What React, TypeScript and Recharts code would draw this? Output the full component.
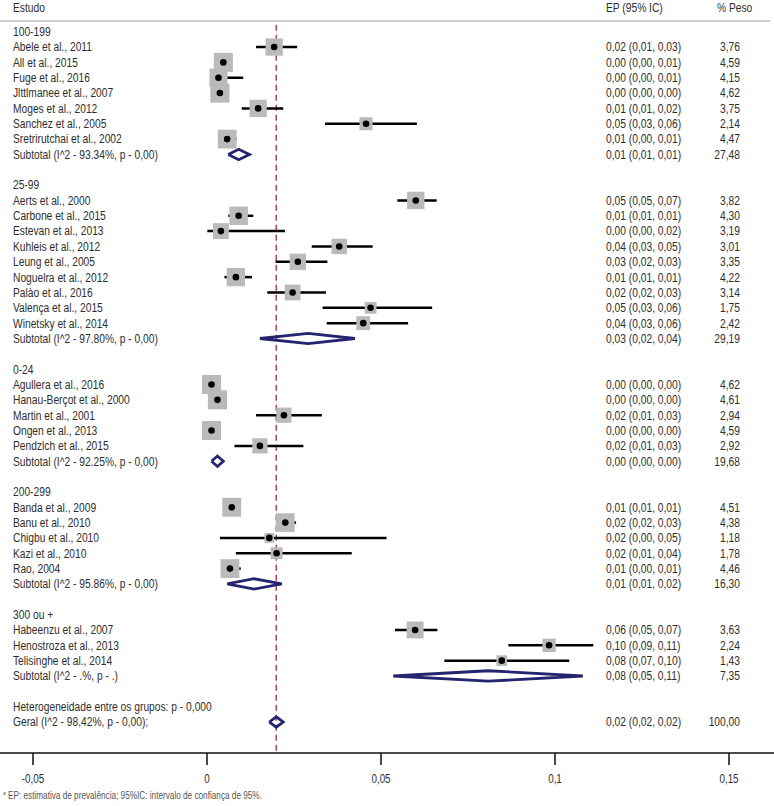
import React from 'react';
import { ComposedChart, Scatter, Line, XAxis, YAxis, ErrorBar, ReferenceLine } from 'recharts';

const groupNames = ['100-199', '25-99', '0-24', '200-299', '300 ou +'];
const groupSizes = [7, 9, 5, 5, 3];

const studyNames = [
  'Abele et al., 2011', 'All et al., 2015', 'Fuge et al., 2016', 'Jlttlmanee et al., 2007', 'Moges et al., 2012',
  'Sanchez et al., 2005', 'Sretrirutchai et al., 2002',
  'Aerts et al., 2000', 'Carbone et al., 2015', 'Estevan et al., 2013', 'Kuhleis et al., 2012', 'Leung et al., 2005',
  'Noguelra et al., 2012', 'Palào et al., 2016', 'Valença et al., 2015', 'Winetsky et al., 2014',
  'Agullera et al., 2016', 'Hanau-Berçot et al., 2000', 'Martin et al., 2001', 'Ongen et al., 2013', 'Pendzlch et al., 2015',
  'Banda et al., 2009', 'Banu et al., 2010', 'Chigbu et al., 2010', 'Kazi et al., 2010', 'Rao, 2004',
  'Habeenzu et al., 2007', 'Henostroza et al., 2013', 'Telisinghe et al., 2014',
];
const studyEst = [
  0.0193, 0.0047, 0.0033, 0.0037, 0.0147, 0.0457, 0.0058,
  0.0600, 0.0091, 0.0040, 0.0380, 0.0261, 0.0083, 0.0246, 0.0470, 0.0449,
  0.0013, 0.0030, 0.0221, 0.0013, 0.0152,
  0.0071, 0.0225, 0.0179, 0.0200, 0.0066,
  0.0598, 0.0983, 0.0847,
];
const studyLo = [
  0.0141, 0.0030, 0.0009, 0.0025, 0.0100, 0.0339, 0.0037,
  0.0547, 0.0061, 0.0001, 0.0301, 0.0197, 0.0050, 0.0173, 0.0332, 0.0344,
  0.0008, 0.0022, 0.0141, 0.0008, 0.0079,
  0.0055, 0.0198, 0.0037, 0.0083, 0.0042,
  0.0540, 0.0866, 0.0682,
];
const studyHi = [
  0.0259, 0.0065, 0.0104, 0.0050, 0.0219, 0.0603, 0.0085,
  0.0660, 0.0133, 0.0224, 0.0476, 0.0346, 0.0129, 0.0342, 0.0647, 0.0578,
  0.0018, 0.0038, 0.0330, 0.0018, 0.0277,
  0.0093, 0.0256, 0.0516, 0.0416, 0.0097,
  0.0662, 0.1110, 0.1041,
];
const studyWeight = [
  3.76, 4.59, 4.15, 4.62, 3.75, 2.14, 4.47,
  3.82, 4.30, 3.19, 3.01, 3.35, 4.22, 3.14, 1.75, 2.42,
  4.62, 4.61, 2.94, 4.59, 2.92,
  4.51, 4.38, 1.18, 1.78, 4.46,
  3.63, 2.24, 1.43,
];
const studyCi = [
  '0,02 (0,01, 0,03)', '0,00 (0,00, 0,01)', '0,00 (0,00, 0,01)', '0,00 (0,00, 0,00)', '0,01 (0,01, 0,02)',
  '0,05 (0,03, 0,06)', '0,01 (0,00, 0,01)',
  '0,05 (0,05, 0,07)', '0,01 (0,01, 0,01)', '0,00 (0,00, 0,02)', '0,04 (0,03, 0,05)', '0,03 (0,02, 0,03)',
  '0,01 (0,01, 0,01)', '0,02 (0,02, 0,03)', '0,05 (0,03, 0,06)', '0,04 (0,03, 0,06)',
  '0,00 (0,00, 0,00)', '0,00 (0,00, 0,00)', '0,02 (0,01, 0,03)', '0,00 (0,00, 0,00)', '0,02 (0,01, 0,03)',
  '0,01 (0,01, 0,01)', '0,02 (0,02, 0,03)', '0,02 (0,00, 0,05)', '0,02 (0,01, 0,04)', '0,01 (0,00, 0,01)',
  '0,06 (0,05, 0,07)', '0,10 (0,09, 0,11)', '0,08 (0,07, 0,10)',
];

const subtotalLabels = [
  'Subtotal (I^2 - 93.34%, p - 0,00)',
  'Subtotal (I^2 - 97.80%, p - 0,00)',
  'Subtotal (I^2 - 92.25%, p - 0,00)',
  'Subtotal (I^2 - 95.86%, p - 0,00)',
  'Subtotal (I^2 - .%, p - .)',
];
const subtotalEst = [0.0091, 0.0291, 0.0030, 0.0135, 0.0808];
const subtotalLo = [0.0061, 0.0152, 0.0013, 0.0058, 0.0535];
const subtotalHi = [0.0122, 0.0425, 0.0047, 0.0215, 0.1080];
const subtotalWeight = [27.48, 29.19, 19.68, 16.30, 7.35];
const subtotalCi = ['0,01 (0,01, 0,01)', '0,03 (0,02, 0,04)', '0,00 (0,00, 0,00)', '0,01 (0,01, 0,02)', '0,08 (0,05, 0,11)'];

const heterogeneityLabel = 'Heterogeneidade entre os grupos: p - 0,000';
const overallLabel = 'Geral (I^2 - 98,42%, p - 0,00);';
const overallEst = 0.0199;
const overallLo = 0.0179;
const overallHi = 0.0219;
const overallWeight = 100;
const overallCi = '0,02 (0,02, 0,02)';

const xTicks = [-0.05, 0, 0.05, 0.1, 0.15];

// no narrow font installed, so squeeze Liberation Sans horizontally
const FONT = "'Liberation Sans', Arial, sans-serif";
const SQUEEZE = 0.82;
const TEXT = '#2e2e2e';
const NAVY = '#24246f';

const fmtPeso = (w: number) => w.toFixed(2).replace('.', ',');
const diamondH = 0.34;
const makeDiamond = (lo: number, est: number, hi: number, y: number) => [
  { x: lo, y },
  { x: est, y: y - diamondH },
  { x: hi, y },
  { x: est, y: y + diamondH },
  { x: lo, y },
];

type TextRow = { x: number; y: number; label: string; ci?: string; peso?: string; kind?: string };
const textRows: TextRow[] = [{ x: 0, y: -1.6, label: 'Estudo', ci: 'EP (95% IC)', peso: '% Peso', kind: 'head' }];
const studyRows: { x: number; y: number; w: number; err: number[] }[] = [];
const diamonds: { x: number; y: number }[][] = [];

let row = 0;
let k = 0;
groupNames.forEach((g, gi) => {
  textRows.push({ x: 0, y: row, label: g });
  row++;
  for (let j = 0; j < groupSizes[gi]; j++) {
    textRows.push({ x: 0, y: row, label: studyNames[k], ci: studyCi[k], peso: fmtPeso(studyWeight[k]) });
    studyRows.push({ x: studyEst[k], y: row, w: studyWeight[k], err: [studyEst[k] - studyLo[k], studyHi[k] - studyEst[k]] });
    k++;
    row++;
  }
  textRows.push({ x: 0, y: row, label: subtotalLabels[gi], ci: subtotalCi[gi], peso: fmtPeso(subtotalWeight[gi]) });
  diamonds.push(makeDiamond(subtotalLo[gi], subtotalEst[gi], subtotalHi[gi], row));
  row += 2;
});
textRows.push({ x: 0, y: row, label: heterogeneityLabel });
row++;
textRows.push({ x: 0, y: row, label: overallLabel, ci: overallCi, peso: fmtPeso(overallWeight) });
diamonds.push(makeDiamond(overallLo, overallEst, overallHi, row));

// pixel layout: 0 at x=207, 0.05 per 174px; row 0 at y=31.7, 15.34px per row
const X_DOMAIN = [-207 / 3480, (774 - 207) / 3480];
const Y_DOMAIN = [-31.7 / 15.34, (753 - 31.7) / 15.34];

const Narrow = ({ x, y, anchor = 'start', size = 12.5, children }: any) => (
  <text
    transform={`translate(${x},${y}) scale(${SQUEEZE},1)`}
    textAnchor={anchor}
    dominantBaseline="central"
    fontSize={size}
    fill={TEXT}
  >
    {children}
  </text>
);

const BoxShape = (p: any) => {
  const s = 8.9 * Math.sqrt(p.payload.w);
  return <rect x={p.cx - s / 2} y={p.cy - s / 2} width={s} height={s} fill="#bababa" />;
};

const DotShape = (p: any) => <circle cx={p.cx} cy={p.cy} r={3.3} fill="#000" />;

const TextShape = (p: any) => {
  const d = p.payload as TextRow;
  const head = d.kind === 'head';
  return (
    <g>
      <Narrow x={13} y={p.cy}>{d.label}</Narrow>
      {d.ci && <Narrow x={606} y={p.cy}>{d.ci}</Narrow>}
      {d.peso && (
        <Narrow x={head ? 717 : 740} y={p.cy} anchor={head ? 'start' : 'end'}>
          {d.peso}
        </Narrow>
      )}
    </g>
  );
};

const AxisTick = (p: any) => (
  <Narrow x={p.x} y={p.y + 4} anchor="middle" size={12}>
    {String(p.payload.value).replace('.', ',')}
  </Narrow>
);

export default function App() {
  return (
    <div style={{ position: 'absolute', left: 0, top: 0, width: 774, height: 806, fontFamily: FONT, background: '#fff' }}>
      <ComposedChart width={774} height={806} margin={{ top: 0, right: 0, bottom: 0, left: 0 }}>
        <XAxis
          type="number"
          dataKey="x"
          domain={X_DOMAIN}
          allowDataOverflow
          ticks={xTicks}
          height={53}
          tickSize={12}
          tickMargin={10}
          stroke="#111"
          strokeWidth={1.5}
          tick={AxisTick}
        />
        <YAxis type="number" dataKey="y" domain={Y_DOMAIN} allowDataOverflow reversed hide />
        <ReferenceLine
          segment={[{ x: X_DOMAIN[0], y: -0.7 }, { x: (770 - 207) / 3480, y: -0.7 }]}
          stroke="#cfcfcf"
          strokeWidth={2}
        />
        <ReferenceLine
          segment={[{ x: overallEst, y: -0.45 }, { x: overallEst, y: Y_DOMAIN[1] }]}
          stroke="#b04455"
          strokeWidth={1.5}
          strokeDasharray="6 4"
        />
        <Scatter data={textRows} shape={TextShape} isAnimationActive={false} />
        <Scatter data={studyRows} shape={BoxShape} isAnimationActive={false} />
        <Scatter data={studyRows} shape={DotShape} isAnimationActive={false}>
          <ErrorBar dataKey="err" direction="x" width={0} stroke="#000" strokeWidth={2.5} isAnimationActive={false} />
        </Scatter>
        {diamonds.map((pts, i) => (
          <Line
            key={i}
            data={pts}
            dataKey="y"
            stroke={NAVY}
            strokeWidth={2.8}
            strokeLinejoin="miter"
            dot={false}
            activeDot={false}
            isAnimationActive={false}
          />
        ))}
      </ComposedChart>
      <div
        style={{
          position: 'absolute',
          left: 3,
          top: 790,
          fontSize: 10,
          color: '#555',
          whiteSpace: 'nowrap',
          transform: `scaleX(${SQUEEZE})`,
          transformOrigin: 'left top',
        }}
      >
        <sup style={{ fontSize: 6 }}>a</sup> EP: estimativa de prevalência; 95%IC: intervalo de confiança de 95%.
      </div>
    </div>
  );
}
